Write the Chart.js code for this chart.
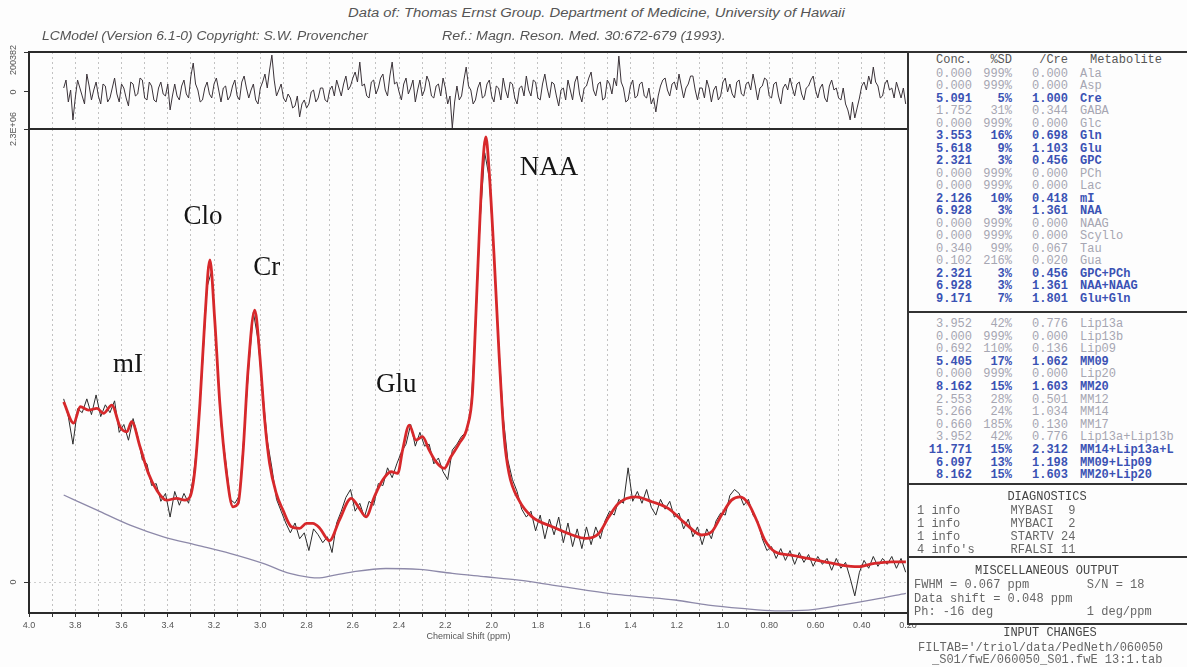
<!DOCTYPE html>
<html><head><meta charset="utf-8">
<script src="https://cdn.jsdelivr.net/npm/chart.js@4.4.1/dist/chart.umd.min.js"></script>
<style>
html,body{margin:0;padding:0;background:#fdfdfd;}
#wrap{position:relative;width:1187px;height:667px;overflow:hidden;background:#fdfdfd;}
canvas{position:absolute;}
.t{position:absolute;white-space:pre;line-height:14px;}
.hdr{font-family:"Liberation Sans",Arial,sans-serif;font-style:italic;font-size:12px;color:#555;transform-origin:0 50%;}
.mono{font-family:"Liberation Mono","DejaVu Sans Mono",monospace;font-size:12px;}
#tbl{position:absolute;left:907px;top:51px;width:282px;height:574px;border:2px solid #333;box-sizing:border-box;background:#fdfdfd;z-index:3;}
.sep{position:absolute;left:907px;width:282px;height:2px;background:#333;z-index:4;}
</style></head><body><div id="wrap">
<canvas id="res" width="920" height="95" style="left:0;top:40px"></canvas>
<canvas id="main" width="920" height="550" style="left:0;top:100px"></canvas>
<div id="tbl"></div>
<div class="sep" style="top:311px"></div>
<div class="sep" style="top:483px"></div>
<div class="sep" style="top:556px"></div>
</div>
<script>
// ---------- data ----------
const xTickValues = [4.0,3.8,3.6,3.4,3.2,3.0,2.8,2.6,2.4,2.2,2.0,1.8,1.6,1.4,1.2,1.0,0.8,0.6,0.4,0.2];
const xTickLabels = ['4.0','3.8','3.6','3.4','3.2','3.0','2.8','2.6','2.4','2.2','2.0','1.8','1.6','1.4','1.2','1.0','0.80','0.60','0.40','0.20'];
const gridPpm = [4.0,3.9,3.8,3.7,3.6,3.5,3.4,3.3,3.2,3.1,3.0,2.9,2.8,2.7,2.6,2.5,2.4,2.3,2.2,2.1,2.0,1.9,1.8,1.7,1.6,1.5,1.4,1.3,1.2,1.1,1.0,0.9,0.8,0.7,0.6,0.5,0.4,0.3,0.2];
const yTickValues = [0, 2.3];
const yTickLabels = ['0', '2.3E+06'];
const resTickValues = [0, 0.200382];
const resTickLabels = ['0', '200382'];

const fitPpm = [3.850,3.807,3.778,3.743,3.706,3.678,3.642,3.606,3.577,3.556,3.520,3.484,3.448,3.405,3.362,3.326,3.304,3.283,3.261,3.240,3.218,3.197,3.175,3.146,3.118,3.096,3.075,3.053,3.024,3.003,2.981,2.960,2.931,2.902,2.866,2.830,2.801,2.773,2.744,2.701,2.658,2.607,2.572,2.543,2.507,2.471,2.435,2.406,2.385,2.356,2.327,2.299,2.270,2.241,2.205,2.176,2.140,2.105,2.083,2.069,2.054,2.040,2.025,2.011,1.990,1.968,1.946,1.925,1.882,1.825,1.738,1.652,1.594,1.537,1.494,1.452,1.379,1.307,1.237,1.163,1.092,1.049,1.006,0.963,0.926,0.890,0.855,0.819,0.775,0.704,0.632,0.560,0.488,0.416,0.345,0.273,0.209];
const fitValues = [0.915,0.807,0.890,0.873,0.882,0.856,0.898,0.788,0.763,0.814,0.687,0.552,0.467,0.416,0.425,0.416,0.433,0.569,0.907,1.330,1.635,1.330,0.907,0.552,0.382,0.399,0.653,1.076,1.381,1.161,0.822,0.603,0.450,0.365,0.281,0.273,0.298,0.298,0.275,0.210,0.315,0.425,0.374,0.331,0.433,0.518,0.560,0.552,0.670,0.797,0.721,0.738,0.670,0.611,0.577,0.636,0.704,0.788,0.958,1.330,1.753,2.091,2.260,2.091,1.669,1.161,0.738,0.552,0.416,0.331,0.281,0.239,0.222,0.247,0.330,0.399,0.433,0.408,0.374,0.298,0.239,0.255,0.340,0.416,0.433,0.399,0.315,0.213,0.154,0.137,0.120,0.103,0.086,0.078,0.095,0.103,0.103];

const dataStartPpm = 3.85, dataStepPpm = 0.02;
const dataValues = [0.93,0.84,0.70,0.88,0.86,0.93,0.85,0.95,0.84,0.90,0.86,0.92,
0.76,0.80,0.72,0.83,0.74,0.62,0.60,0.49,0.50,0.41,0.45,0.33,
0.46,0.39,0.45,0.40,0.53,0.74,1.10,1.50,1.58,1.20,0.80,0.62,
0.42,0.40,0.44,0.76,1.09,1.37,1.23,0.97,0.72,0.58,0.42,0.36,
0.30,0.25,0.30,0.22,0.25,0.16,0.27,0.24,0.20,0.23,0.15,0.30,
0.36,0.43,0.47,0.36,0.40,0.33,0.41,0.39,0.50,0.49,0.58,0.53,
0.60,0.66,0.70,0.80,0.69,0.76,0.69,0.70,0.60,0.63,0.56,0.52,
0.67,0.70,0.74,0.76,0.88,1.28,1.83,2.18,2.05,1.66,1.22,0.84,
0.62,0.52,0.46,0.37,0.33,0.36,0.26,0.34,0.22,0.32,0.24,0.33,
0.20,0.30,0.18,0.27,0.17,0.28,0.19,0.28,0.22,0.31,0.36,0.34,
0.42,0.40,0.58,0.41,0.46,0.40,0.47,0.38,0.34,0.42,0.37,0.41,
0.33,0.35,0.27,0.32,0.23,0.28,0.19,0.27,0.22,0.31,0.35,0.34,
0.44,0.47,0.45,0.39,0.42,0.34,0.31,0.22,0.16,0.18,0.12,0.17,
0.11,0.16,0.09,0.15,0.10,0.14,0.08,0.13,0.09,0.12,0.06,0.12,
0.07,0.10,0.02,-0.07,0.05,0.11,0.07,0.13,0.08,0.12,0.09,0.13,
0.07,0.12,0.05];

const residStartPpm = 3.85, residStepPpm = 0.01;
const residValues = [0.02,0.06,-0.05,0.01,-0.14,-0.03,0.06,0.02,-0.02,-0.06,0.09,0.03,-0.04,0.01,0.05,-0.02,-0.06,0.04,0.03,-0.05,-0.03,0.02,0.07,-0.01,
-0.05,0.04,0.02,-0.03,-0.07,0.05,0.04,-0.02,-0.01,0.07,0.06,-0.03,-0.04,0.05,0.03,-0.04,-0.05,0.02,0.05,-0.01,-0.02,0.04,-0.09,-0.02,
0.04,-0.02,-0.04,0.03,0.06,-0.01,-0.03,0.08,0.145,0.04,0.01,-0.05,-0.04,0.02,0.05,-0.01,-0.03,0.04,0.07,0.01,-0.05,0.02,0.03,-0.04,
-0.02,0.03,0.06,-0.02,-0.04,0.05,0.08,0.02,-0.03,0.01,0.04,-0.04,-0.06,0.02,0.05,0.09,0.02,0.11,0.185,0.06,-0.02,0.01,0.04,-0.03,
-0.05,-0.01,-0.03,-0.08,-0.07,-0.02,-0.125,-0.06,-0.04,-0.08,-0.06,0.00,0.01,-0.05,-0.03,0.02,0.02,-0.04,-0.05,0.01,0.03,-0.02,0.06,0.02,
-0.02,0.04,0.08,0.01,0.03,0.07,0.10,0.05,0.15,0.03,0.04,-0.02,-0.03,0.05,0.06,-0.01,0.02,0.07,0.09,0.01,-0.02,0.08,0.15,0.04,
0.05,0.00,-0.04,0.04,0.07,-0.01,0.02,0.06,-0.05,0.01,0.06,-0.02,0.01,0.08,0.05,-0.02,-0.03,0.03,0.04,-0.02,0.07,0.02,-0.06,-0.02,
-0.18,-0.05,0.03,-0.04,-0.02,0.06,0.125,0.03,0.01,-0.06,-0.04,0.02,0.05,-0.03,-0.02,0.04,0.06,-0.02,-0.05,0.03,0.02,-0.04,0.07,0.01,
-0.03,0.05,0.04,-0.03,-0.06,0.02,0.03,-0.02,0.08,0.01,-0.02,0.06,0.05,-0.03,-0.04,0.04,0.09,0.02,-0.03,0.05,0.04,-0.02,-0.07,0.01,
0.02,-0.04,0.06,0.01,-0.04,0.05,0.08,-0.01,-0.05,0.02,0.03,0.07,0.10,0.01,-0.02,0.04,0.05,-0.04,-0.03,0.06,0.04,-0.01,0.07,0.03,
0.18,0.05,0.02,-0.05,-0.04,0.03,0.06,-0.03,-0.02,0.04,0.05,-0.02,-0.03,0.02,-0.06,-0.03,-0.10,-0.02,0.03,0.06,0.07,0.01,-0.02,0.04,
0.05,0.01,0.09,0.03,-0.03,0.02,0.04,0.08,0.08,0.01,-0.04,0.02,0.02,-0.03,0.06,0.02,-0.05,0.01,0.03,-0.04,-0.02,0.05,0.07,0.00,
0.04,-0.01,-0.03,0.05,0.06,-0.01,-0.02,0.04,0.05,0.01,0.09,0.03,-0.04,0.02,0.03,0.07,0.06,-0.02,-0.03,0.04,0.05,-0.02,-0.06,0.02,
0.04,0.01,0.07,0.02,-0.02,0.04,0.05,-0.01,-0.04,0.02,0.03,0.06,0.08,0.01,-0.03,0.02,0.04,-0.03,-0.05,0.03,0.06,0.01,0.02,-0.03,
-0.04,0.02,-0.06,-0.09,-0.14,-0.05,-0.13,-0.08,-0.03,0.03,0.05,0.01,0.08,0.04,0.125,0.05,0.03,-0.03,-0.02,0.04,0.06,0.01,0.02,-0.03,
0.05,0.01,-0.03,0.02,-0.06];

const basePpm = [3.850,3.706,3.563,3.419,3.275,3.132,2.988,2.873,2.787,2.744,2.700,2.600,2.457,2.313,2.170,2.025,1.882,1.738,1.594,1.450,1.350,1.207,1.063,0.920,0.775,0.632,0.488,0.345,0.209];
const baseValues = [0.442,0.365,0.289,0.230,0.188,0.146,0.095,0.044,0.024,0.021,0.030,0.052,0.069,0.064,0.044,0.027,0.010,-0.015,-0.041,-0.064,-0.075,-0.091,-0.117,-0.134,-0.146,-0.142,-0.117,-0.088,-0.057];

const peakNames = ['mI','Clo','Cr','Glu','NAA'];
const peakAnchorPpm = [3.572,3.248,2.972,2.412,1.752];
const peakAnchorLevel = [1.10,1.853,1.594,1.00,2.10];

const metConc = ['0.000','0.000','5.091','1.752','0.000','3.553','5.618','2.321','0.000','0.000','2.126','6.928','0.000','0.000','0.340','0.102','2.321','6.928','9.171'];
const metSD = ['999%','999%','5%','31%','999%','16%','9%','3%','999%','999%','10%','3%','999%','999%','99%','216%','3%','3%','7%'];
const metCre = ['0.000','0.000','1.000','0.344','0.000','0.698','1.103','0.456','0.000','0.000','0.418','1.361','0.000','0.000','0.067','0.020','0.456','1.361','1.801'];
const metName = ['Ala','Asp','Cre','GABA','Glc','Gln','Glu','GPC','PCh','Lac','mI','NAA','NAAG','Scyllo','Tau','Gua','GPC+PCh','NAA+NAAG','Glu+Gln'];

const lipConc = ['3.952','0.000','0.692','5.405','0.000','8.162','2.553','5.266','0.660','3.952','11.771','6.097','8.162'];
const lipSD = ['42%','999%','110%','17%','999%','15%','28%','24%','185%','42%','15%','13%','15%'];
const lipCre = ['0.776','0.000','0.136','1.062','0.000','1.603','0.501','1.034','0.130','0.776','2.312','1.198','1.603'];
const lipName = ['Lip13a','Lip13b','Lip09','MM09','Lip20','MM20','MM12','MM14','MM17','Lip13a+Lip13b','MM14+Lip13a+L','MM09+Lip09','MM20+Lip20'];

const diagLines = ['1 info       MYBASI  9','1 info       MYBACI  2','1 info       STARTV 24',"4 info's     RFALSI 11"];
const miscLines = ['FWHM = 0.067 ppm        S/N = 18','Data shift = 0.048 ppm','Ph: -16 deg             1 deg/ppm'];
const inputLines = ["FILTAB='/triol/data/PedNeth/060050", "_S01/fwE/060050_S01.fwE 13:1.tab"];

// ---------- text ----------
const wrap = document.getElementById('wrap');
function txt(str, x, y, cls, opt) {
  opt = opt || {};
  const d = document.createElement('div');
  d.className = 't ' + cls;
  d.textContent = str;
  d.style.top = (y - 7) + 'px';
  if (opt.align === 'right') { d.style.right = (1187 - x) + 'px'; }
  else if (opt.align === 'center') { d.style.left = (x - 150) + 'px'; d.style.width = '300px'; d.style.textAlign = 'center'; }
  else d.style.left = x + 'px';
  if (opt.color) d.style.color = opt.color;
  if (opt.weight) d.style.fontWeight = opt.weight;
  d.style.zIndex = 5;
  wrap.appendChild(d);
  if (opt.toX) { const w = d.offsetWidth; d.style.transform = 'scaleX(' + ((opt.toX - x) / w).toFixed(3) + ')'; }
  return d;
}
txt('Data of: Thomas Ernst Group. Department of Medicine, University of Hawaii', 348, 13, 'hdr', {toX: 845});
txt('LCModel (Version 6.1-0) Copyright: S.W. Provencher', 42, 36, 'hdr', {toX: 368});
txt('Ref.: Magn. Reson. Med. 30:672-679 (1993).', 442, 36, 'hdr', {toX: 726});

const BLUE = '#3a52b4', GRAY = '#a6a6b2', DARK = '#555';
function row(c, s, r, n, y) {
  const sd = parseInt(s, 10);
  const col = sd <= 20 ? BLUE : GRAY;
  const w = sd <= 20 ? 'bold' : 'normal';
  txt(c, 972, y, 'mono', {align:'right', color:col, weight:w});
  txt(s, 1012, y, 'mono', {align:'right', color:col, weight:w});
  txt(r, 1068, y, 'mono', {align:'right', color:col, weight:w});
  txt(n, 1080, y, 'mono', {color:col, weight:w});
}
txt('Conc.', 972, 60, 'mono', {align:'right', color:DARK});
txt('%SD', 1012, 60, 'mono', {align:'right', color:DARK});
txt('/Cre', 1068, 60, 'mono', {align:'right', color:DARK});
txt('Metabolite', 1090, 60, 'mono', {color:DARK});
metName.forEach((n, i) => row(metConc[i], metSD[i], metCre[i], n, 73.5 + 12.5 * i));
lipName.forEach((n, i) => row(lipConc[i], lipSD[i], lipCre[i], n, 324 + 12.6 * i));
txt('DIAGNOSTICS', 1047, 497, 'mono', {align:'center', color:'#444'});
diagLines.forEach((l, i) => txt(l, 917, 511 + 13 * i, 'mono', {color:'#666'}));
txt('MISCELLANEOUS OUTPUT', 1047, 571, 'mono', {align:'center', color:'#444'});
miscLines.forEach((l, i) => txt(l, 914, 585 + 13.5 * i, 'mono', {color:'#666'}));
txt('INPUT CHANGES', 1050, 633, 'mono', {align:'center', color:'#444'});
txt(inputLines[0], 918, 648, 'mono', {color:'#666'});
txt(inputLines[1], 932, 660, 'mono', {color:'#666'});

// ---------- plugins ----------
const framePlugin = {
  id: 'frame',
  afterDraw(chart) {
    const {ctx, chartArea: a} = chart;
    ctx.save(); ctx.strokeStyle = '#2a2a2a'; ctx.lineWidth = 2;
    ctx.strokeRect(a.left, a.top, a.right - a.left, a.bottom - a.top);
    ctx.restore();
  }
};
const yLabelPlugin = {
  id: 'ylabels',
  afterDraw(chart, args, opts) {
    const s = chart.scales.y, ctx = chart.ctx;
    ctx.save(); ctx.fillStyle = '#555'; ctx.font = '9px "Liberation Sans", Arial, sans-serif';
    ctx.textAlign = 'center'; ctx.textBaseline = 'middle';
    opts.values.forEach((v, i) => {
      const y = s.getPixelForValue(v) + (opts.shift[i] || 0);
      ctx.save(); ctx.translate(opts.x, y); ctx.rotate(-Math.PI / 2);
      ctx.fillText(opts.labels[i], 0, 0); ctx.restore();
    });
    ctx.restore();
  }
};
const peakPlugin = {
  id: 'peaks',
  afterDatasetsDraw(chart) {
    const ctx = chart.ctx, sx = chart.scales.x, sy = chart.scales.y;
    ctx.save(); ctx.fillStyle = '#151515'; ctx.font = '27px "Liberation Serif", "Times New Roman", serif';
    ctx.textAlign = 'center'; ctx.textBaseline = 'middle';
    peakNames.forEach((n, i) => ctx.fillText(n, sx.getPixelForValue(peakAnchorPpm[i]), sy.getPixelForValue(peakAnchorLevel[i])));
    ctx.restore();
  }
};

const dataPpm = dataValues.map((_, i) => +(dataStartPpm - dataStepPpm * i).toFixed(3));
const residPpm = residValues.map((_, i) => +(residStartPpm - residStepPpm * i).toFixed(3));
const pts = (xs, ys) => xs.map((x, i) => ({x: x, y: ys[i]}));
const FONT = '"Liberation Sans", Arial, sans-serif';

function xScale(showLabels) {
  return {
    type: 'linear', reverse: true, min: 0.2, max: 4.0,
    afterBuildTicks: s => { s.ticks = gridPpm.map(v => ({value: v})); },
    afterFit: s => { s.height = showLabels ? 37 : 0; },
    ticks: {
      display: showLabels, autoSkip: false, maxRotation: 0, minRotation: 0, padding: 3,
      color: '#555', font: {family: FONT, size: 9},
      callback: v => { const k = xTickValues.findIndex(t => Math.abs(t - v) < 1e-6); return k >= 0 ? xTickLabels[k] : ''; }
    },
    grid: {color: '#c2c2c2', lineWidth: 1, drawTicks: showLabels, tickLength: 4, tickColor: '#333'},
    border: {display: false, dash: [2, 3]},
    title: {display: showLabels, text: 'Chemical Shift (ppm)', color: '#555', font: {family: FONT, size: 9}, padding: {top: 0, bottom: 8}}
  };
}

new Chart(document.getElementById('res'), {
  type: 'line',
  data: {datasets: [
    {data: pts(residPpm, residValues), borderColor: '#3a3238', borderWidth: 1, pointRadius: 0, tension: 0}
  ]},
  options: {
    animation: false, responsive: false, devicePixelRatio: 1,
    layout: {padding: {top: 12, right: 12, bottom: 6, left: 0}},
    plugins: {legend: {display: false}, tooltip: {enabled: false},
      ylabels: {values: resTickValues, labels: resTickLabels, x: 14, shift: [0, 8]}},
    scales: {
      x: xScale(false),
      y: {min: -0.1854, max: 0.2004,
        afterBuildTicks: s => { s.ticks = resTickValues.map(v => ({value: v})); },
        afterFit: s => { s.width = 29; },
        ticks: {display: false},
        grid: {drawOnChartArea: false, tickLength: 5, tickColor: '#333'},
        border: {display: false}}
    }
  },
  plugins: [framePlugin, yLabelPlugin]
});

new Chart(document.getElementById('main'), {
  type: 'line',
  data: {datasets: [
    {data: pts(fitPpm, fitValues), borderColor: '#d7282b', borderWidth: 2.8, pointRadius: 0, cubicInterpolationMode: 'monotone', order: 0},
    {data: pts(dataPpm, dataValues), borderColor: '#2b2b2b', borderWidth: 1, pointRadius: 0, tension: 0, order: 1},
    {data: pts(basePpm, baseValues), borderColor: '#8d89a9', borderWidth: 1.3, pointRadius: 0, cubicInterpolationMode: 'monotone', order: 2}
  ]},
  options: {
    animation: false, responsive: false, devicePixelRatio: 1,
    layout: {padding: {top: 29, right: 12, bottom: 0, left: 0}},
    plugins: {legend: {display: false}, tooltip: {enabled: false},
      ylabels: {values: yTickValues, labels: yTickLabels, x: 14, shift: [0, 0]}},
    scales: {
      x: xScale(true),
      y: {min: -0.157, max: 2.3,
        afterBuildTicks: s => { s.ticks = yTickValues.map(v => ({value: v})); },
        afterFit: s => { s.width = 29; },
        ticks: {display: false},
        grid: {color: c => (c.tick && c.tick.value === 0) ? '#cfcfcf' : 'rgba(0,0,0,0)', tickLength: 5, tickColor: '#333'},
        border: {display: false, dash: [2, 3]}}
    }
  },
  plugins: [framePlugin, yLabelPlugin, peakPlugin]
});
</script>
</body></html>
